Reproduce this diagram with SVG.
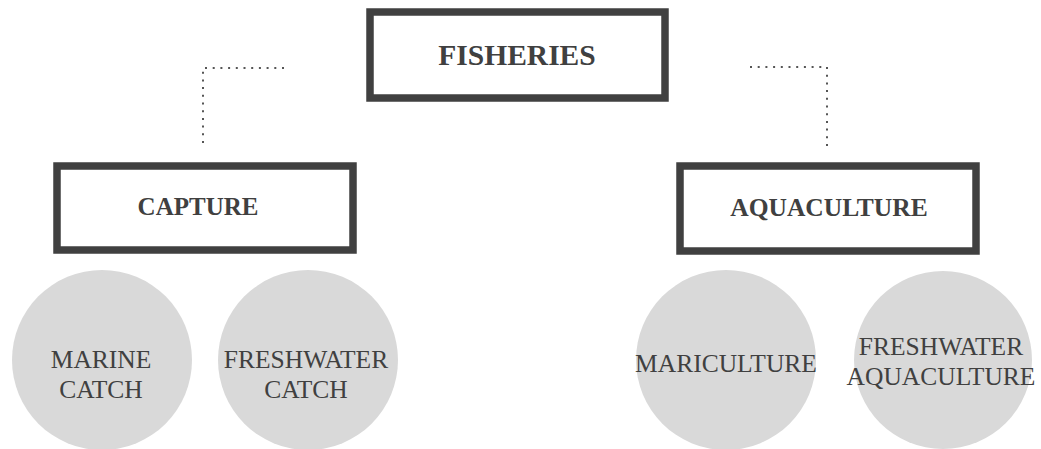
<svg xmlns="http://www.w3.org/2000/svg" width="1041" height="449" viewBox="0 0 1041 449">
<style>
.box{fill:#fff;stroke:#404040;stroke-width:7.5}
.circ{fill:#d9d9d9}
.bt{font-family:"Liberation Serif",serif;font-weight:bold;fill:#404040;text-anchor:middle}
.ct{font-family:"Liberation Serif",serif;font-size:25.5px;fill:#404040;text-anchor:middle}
.dot{fill:none;stroke:#555;stroke-width:2;stroke-dasharray:2 5.7}
</style>
<rect width="1041" height="449" fill="#fff"/>
<g id="connectors">
<path class="dot" d="M284,68 H203 V144"/>
<path class="dot" d="M750,67 H827 V149"/>
</g>
<g id="fisheries">
<rect class="box" x="370" y="12" width="295" height="86"/>
<text class="bt" x="517" y="65" font-size="29.5">FISHERIES</text>
</g>
<g id="capture">
<rect class="box" x="57" y="166" width="296" height="84"/>
<text class="bt" x="198" y="215" font-size="25">CAPTURE</text>
</g>
<g id="aquaculture">
<rect class="box" x="680" y="166" width="296" height="85"/>
<text class="bt" x="829" y="216" font-size="25.5">AQUACULTURE</text>
</g>
<g id="marine-catch">
<circle class="circ" cx="102" cy="360" r="90"/>
<text class="ct" x="101" y="368">MARINE</text>
<text class="ct" x="101" y="398">CATCH</text>
</g>
<g id="freshwater-catch">
<circle class="circ" cx="308" cy="360" r="90"/>
<text class="ct" x="306" y="368">FRESHWATER</text>
<text class="ct" x="306" y="398">CATCH</text>
</g>
<g id="mariculture">
<circle class="circ" cx="726" cy="360" r="90"/>
<text class="ct" x="726" y="372">MARICULTURE</text>
</g>
<g id="freshwater-aquaculture">
<circle class="circ" cx="943" cy="360" r="89"/>
<text class="ct" x="941" y="355">FRESHWATER</text>
<text class="ct" x="941" y="385">AQUACULTURE</text>
</g>
</svg>
